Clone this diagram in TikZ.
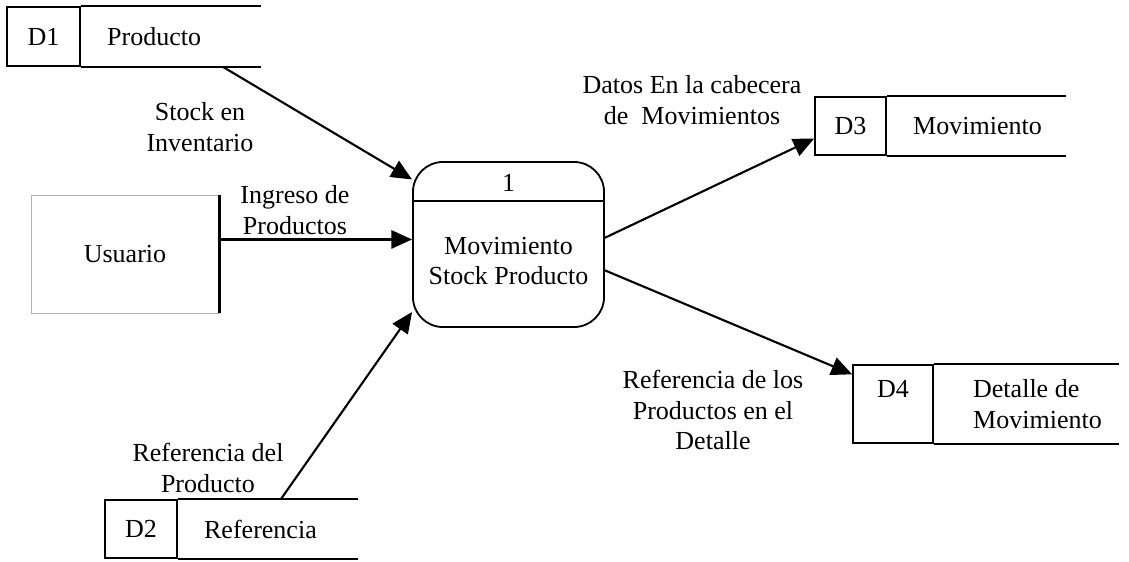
\documentclass[tikz,border=0pt]{standalone}
\usepackage{fontspec}
\setmainfont{Liberation Serif}
\usetikzlibrary{arrows.meta,calc,positioning}
\tikzset{>={Triangle[length=5.2mm,width=4.6mm]}}
\tikzstyle{storeid}=[rectangle,draw,line width=1.2pt,inner sep=0pt,align=center]
\tikzstyle{storename}=[inner sep=0pt,align=left]
\tikzstyle{storeline}=[line width=1.2pt]
\tikzstyle{process}=[rectangle,draw,line width=1.3pt,rounded corners=0.75cm,minimum width=4.775cm,minimum height=4.125cm]
\tikzstyle{entity}=[rectangle,draw=gray!60,line width=0.6pt,minimum width=4.7cm,minimum height=2.95cm]
\tikzstyle{flow}=[->,line width=1.5pt]
\tikzstyle{flowlabel}=[align=center,inner sep=0pt]

\begin{document}
\begin{tikzpicture}[x=0.025cm,y=-0.025cm,font=\fontsize{18.5}{21.5}\selectfont]
	\useasboundingbox (0,0) rectangle (1129,561);
	
	% data stores
	\node[storeid,minimum width=1.825cm,minimum height=1.475cm] (d1id) at (43.5,36.5) {D1};
	\node[storename,right=0.65cm of d1id] (d1) {Producto};
	\draw[storeline] (d1id.north east) -- ++(180,0);
	\draw[storeline] (d1id.south east) -- ++(180,0);
	
	\node[storeid,minimum width=1.8cm,minimum height=1.45cm] (d2id) at (141,529) {D2};
	\node[storename,right=0.65cm of d2id] (d2) {Referencia};
	\draw[storeline] (d2id.north east) -- ++(180,0);
	\draw[storeline] (d2id.south east) -- ++(180,0);
	
	\node[storeid,minimum width=1.775cm,minimum height=1.45cm] (d3id) at (850.5,126) {D3};
	\node[storename,right=0.65cm of d3id] (d3) {Movimiento};
	\draw[storeline] (d3id.north east) -- ++(179,0);
	\draw[storeline] (d3id.south east) -- ++(179,0);
	
	\node[storeid,minimum width=2cm,minimum height=1.95cm] (d4id) at (893,404) {D4\\\mbox{}};
	\node[storename,right=0.975cm of d4id] (d4) {Detalle de\\Movimiento};
	\draw[storeline] (d4id.north east) -- ++(185,0);
	\draw[storeline] (d4id.south east) -- ++(185,0);
	
	% external entity
	\node[entity] (usr) at (125,254) {Usuario};
	\draw[line width=1.5pt] (usr.north east) -- (usr.south east);
	
	% process
	\node[process] (proc) at (508.5,244.5) {};
	\node (procnum) at (508.5,183) {1};
	\draw[storeline] (proc.west |- 0,201) -- (proc.east |- 0,201);
	\node[flowlabel] (proctxt) at (508.5,261) {Movimiento\\Stock Producto};
	
	% flows
	\draw[flow] ([xshift=3.55cm]d1id.south east) -- (proc.146);
	\draw[flow] (usr.east |- proc.177) -- (proc.177);
	\draw[flow] ([xshift=2.575cm]d2id.north east) -- (proc.215);
	\draw[flow] (proc.4) -- (d3id.199);
	\draw[flow] (proc.345) -- (d4id.144);
	
	\node[flowlabel] (lblstock) at (200,127) {Stock en\\Inventario};
	\node[flowlabel] (lblingreso) at (295,210) {Ingreso de\\Productos};
	\node[flowlabel] (lblref) at (208,468) {Referencia del\\Producto};
	\node[flowlabel] (lbldatos) at (692,100) {Datos En la cabecera\\de\ \ Movimientos};
	\node[flowlabel] (lbldetalle) at (713,410) {Referencia de los\\Productos en el\\Detalle};
\end{tikzpicture}
\end{document}
